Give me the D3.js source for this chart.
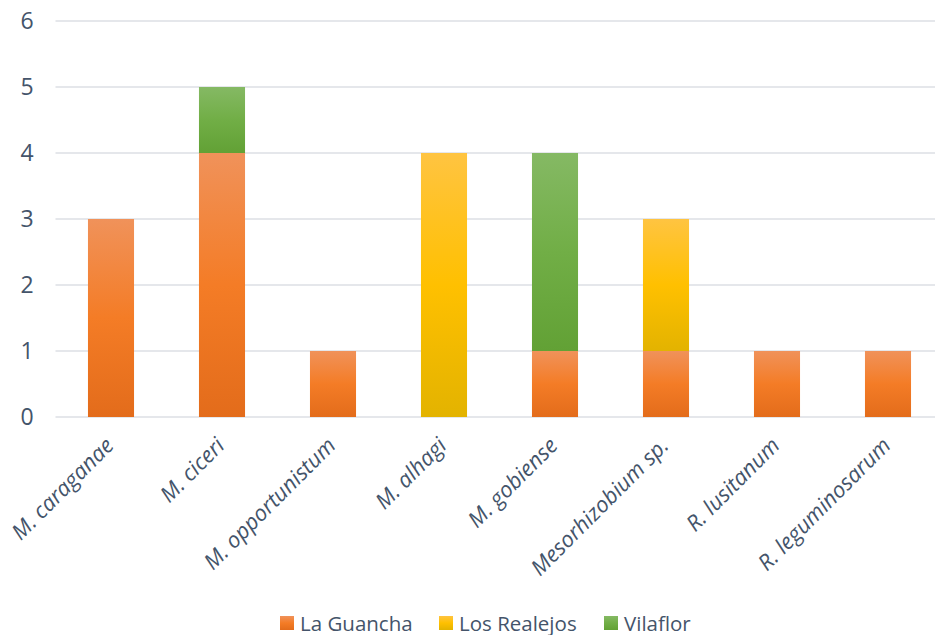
<!DOCTYPE html>
<html>
<head>
<meta charset="utf-8">
<script src="https://cdn.jsdelivr.net/npm/d3@7"></script>
<style>
  html, body { margin: 0; padding: 0; background: #fff; }
  svg { display: block; }
  text { font-family: "Open Sans", "Noto Sans", sans-serif; fill: #44546A; }
</style>
</head>
<body>
<svg id="chart" width="935" height="635"></svg>
<script>
// Species isolated per site (counts)
const categories = ["M. caraganae", "M. ciceri", "M. opportunistum", "M. alhagi",
  "M. gobiense", "Mesorhizobium sp.", "R. lusitanum", "R. leguminosarum"];
const seriesNames = ["La Guancha", "Los Realejos", "Vilaflor"];
const laGuancha   = [3, 4, 1, 0, 1, 1, 1, 1];
const losRealejos = [0, 0, 0, 4, 0, 2, 0, 0];
const vilaflor    = [0, 1, 0, 0, 3, 0, 0, 0];
const yTicks = [0, 1, 2, 3, 4, 5, 6];

// Gradient stops (top, middle, bottom) for each series
const gradients = {
  "La Guancha":   ["#F0925A", "#F47C26", "#E36C1B"],
  "Los Realejos": ["#FFC441", "#FFC000", "#E3B300"],
  "Vilaflor":     ["#85B964", "#71AE46", "#62A135"]
};

const svg = d3.select("#chart");
const margin = { left: 55.5, right: -8.5, top: 21, bottom: 218 };
const W = 935, H = 635;

const rows = categories.map((c, i) => ({
  cat: c,
  "La Guancha": laGuancha[i],
  "Los Realejos": losRealejos[i],
  "Vilaflor": vilaflor[i]
}));
const stacked = d3.stack().keys(seriesNames)(rows);

const x = d3.scaleBand()
  .domain(categories)
  .range([margin.left, W - margin.right])
  .paddingInner(0.585)
  .paddingOuter(0.2925);
const y = d3.scaleLinear().domain([0, 6]).range([H - margin.bottom, margin.top]);

// gradient definitions
const defs = svg.append("defs");
seriesNames.forEach((s, i) => {
  const g = defs.append("linearGradient")
    .attr("id", "grad" + i)
    .attr("x1", 0).attr("y1", 0).attr("x2", 0).attr("y2", 1);
  g.append("stop").attr("offset", "0%").attr("stop-color", gradients[s][0]);
  g.append("stop").attr("offset", "50%").attr("stop-color", gradients[s][1]);
  g.append("stop").attr("offset", "100%").attr("stop-color", gradients[s][2]);
});

// horizontal gridlines
svg.append("g")
  .selectAll("line")
  .data(yTicks)
  .join("line")
  .attr("x1", margin.left).attr("x2", W)
  .attr("y1", d => y(d)).attr("y2", d => y(d))
  .attr("stroke", "#DCDFE4")
  .attr("stroke-width", 1.5);

// y-axis labels
const yAxis = d3.axisLeft(y).tickValues(yTicks).tickSize(0).tickPadding(0).tickFormat(d3.format("d"));
svg.append("g")
  .attr("transform", `translate(${margin.left - 28.5},0)`)
  .call(yAxis)
  .call(g => g.select(".domain").remove())
  .call(g => g.selectAll("text")
    .attr("text-anchor", "middle")
    .style("font-size", "23px")
    .attr("fill", "#44546A"));

// stacked bars
svg.append("g")
  .selectAll("g")
  .data(stacked)
  .join("g")
  .attr("fill", (d, i) => `url(#grad${i})`)
  .selectAll("rect")
  .data(d => d.filter(p => p[1] - p[0] > 0))
  .join("rect")
  .attr("x", d => x(d.data.cat))
  .attr("width", x.bandwidth())
  .attr("y", d => y(d[1]))
  .attr("height", d => y(d[0]) - y(d[1]));

// rotated category labels
const xAxis = d3.axisBottom(x).tickSize(0).tickPadding(0);
svg.append("g")
  .attr("transform", `translate(0,${y(0)})`)
  .call(xAxis)
  .call(g => g.select(".domain").remove())
  .call(g => g.selectAll("text")
    .attr("text-anchor", "end")
    .attr("dy", 0)
    .attr("transform", "translate(4,30) rotate(-45)")
    .style("font-size", "22px")
    .style("font-style", "italic")
    .attr("fill", "#44546A"));

// legend
const legendX = [280, 439, 604];
const legend = svg.append("g")
  .selectAll("g")
  .data(seriesNames)
  .join("g")
  .attr("transform", (d, i) => `translate(${legendX[i]},616)`);
legend.append("rect")
  .attr("width", 14).attr("height", 14)
  .attr("fill", (d, i) => `url(#grad${i})`);
legend.append("text")
  .attr("x", 20).attr("y", 14.5)
  .style("font-size", "20.5px")
  .text(d => d);
</script>
</body>
</html>
